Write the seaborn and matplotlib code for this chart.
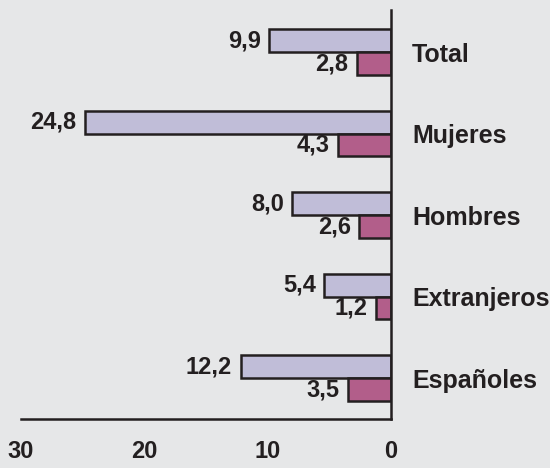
import seaborn as sns
import pandas as pd
import matplotlib.pyplot as plt

# categories and the two series
categories = ["Total", "Mujeres", "Hombres", "Extranjeros", "Españoles"]
serie_a = [9.9, 24.8, 8.0, 5.4, 12.2]
serie_b = [2.8, 4.3, 2.6, 1.2, 3.5]
x_ticks = [30, 20, 10, 0]

df = pd.DataFrame({
    "Grupo": categories * 2,
    "Serie": ["A"] * len(categories) + ["B"] * len(categories),
    "Valor": serie_a + serie_b,
})

bg = "#e6e7e8"
ink = "#231f20"
sns.set_style("white")
plt.rcParams["font.family"] = ["Liberation Sans", "DejaVu Sans"]
plt.rcParams["font.weight"] = "bold"

fig = plt.figure(figsize=(5.5, 4.68), dpi=100, facecolor=bg)
ax = fig.add_axes([0.038, 0.105, 0.673, 0.874])
ax.set_facecolor(bg)

sns.barplot(data=df, y="Grupo", x="Valor", hue="Serie", order=categories,
            palette=["#bcb8dc", "#c0508a"], width=0.56, orient="h",
            edgecolor=ink, linewidth=1.8, legend=False, ax=ax)

# value labels to the left of each bar end (x axis is inverted)
for cont in ax.containers:
    for patch, v in zip(cont.patches, cont.datavalues):
        yc = patch.get_y() + patch.get_height() / 2
        ax.annotate(f"{v:.1f}".replace(".", ","), xy=(v, yc), xytext=(-6, 0),
                    textcoords="offset points", ha="right", va="center",
                    fontsize=17, fontweight="bold", color=ink)

ax.set_xlim(30, 0)
ax.set_ylim(4.5, -0.52)
ax.set_xticks(x_ticks)
ax.set_xticklabels([str(t) for t in x_ticks], fontsize=17, fontweight="bold", color=ink)
ax.tick_params(axis="x", direction="out", length=6.5, width=1.8, pad=9, color=ink)

ax.yaxis.tick_right()
ax.tick_params(axis="y", length=0, pad=15)
for lbl in ax.get_yticklabels():
    lbl.set_fontsize(18)
    lbl.set_fontweight("bold")
    lbl.set_color(ink)

ax.set_xlabel("")
ax.set_ylabel("")
for side in ["left", "top"]:
    ax.spines[side].set_visible(False)
for side in ["right", "bottom"]:
    ax.spines[side].set_linewidth(1.8)
    ax.spines[side].set_color(ink)

plt.savefig("out.png", dpi=100, facecolor=bg)
